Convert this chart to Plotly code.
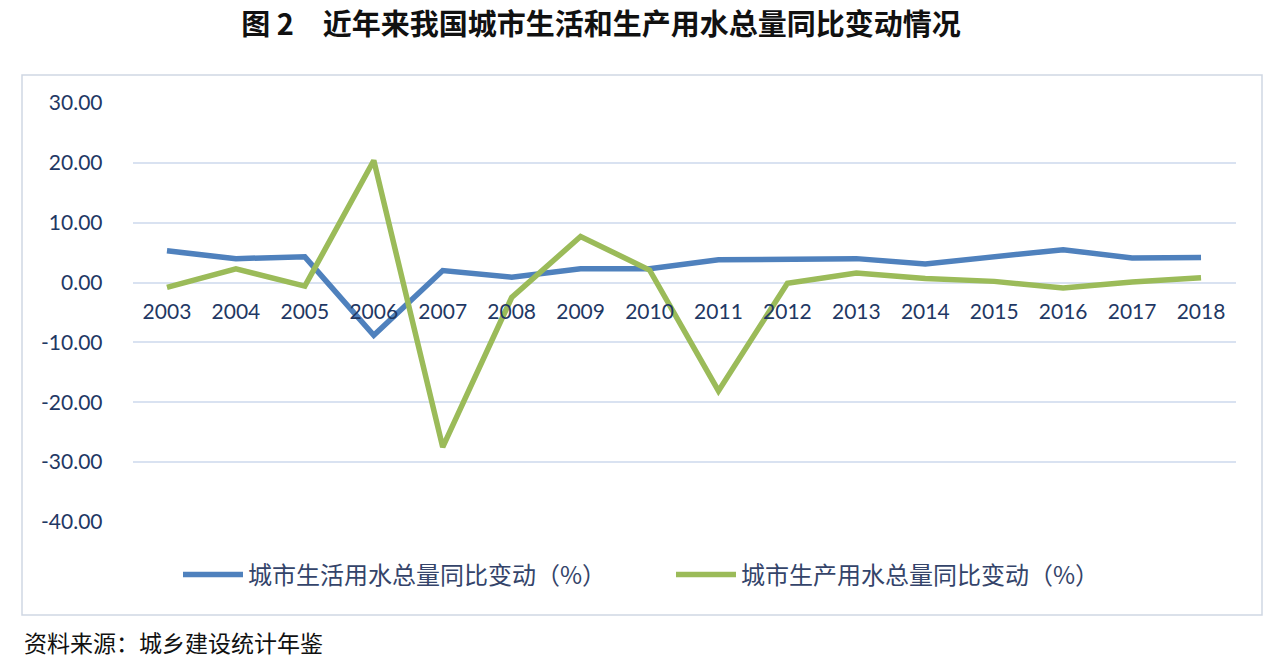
import plotly.graph_objects as go

years = ["2003", "2004", "2005", "2006", "2007", "2008", "2009", "2010",
         "2011", "2012", "2013", "2014", "2015", "2016", "2017", "2018"]
domestic = [5.3, 4.0, 4.3, -8.8, 2.0, 0.9, 2.3, 2.3, 3.8, 3.8, 4.0, 3.1, 4.3, 5.5, 4.1, 4.2]
production = [-0.8, 2.3, -0.6, 20.4, -27.5, -2.5, 7.7, 2.1, -18.1, -0.1, 1.6, 0.7, 0.2, -0.9, 0.1, 0.8]
series_names = ["城市生活用水总量同比变动（%）", "城市生产用水总量同比变动（%）"]
y_ticks = [30, 20, 10, 0, -10, -20, -30, -40]
y_tick_text = ["30.00", "20.00", "10.00", "0.00", "-10.00", "-20.00", "-30.00", "-40.00"]

W, H = 1284, 660
def px(x): return x / W
def py(y): return 1 - y / H

FONT = "Lato, Noto Sans CJK SC, sans-serif"
NAVY = "#1F3864"

fig = go.Figure()
fig.add_trace(go.Scatter(x=years, y=domestic, mode="lines", name=series_names[0],
                         line=dict(color="#4F81BD", width=5.5)))
fig.add_trace(go.Scatter(x=years, y=production, mode="lines", name=series_names[1],
                         line=dict(color="#9BBB59", width=5.5)))

ydom = [py(522), py(103)]
zero_pos = py(283)

fig.update_layout(
    width=W, height=H,
    margin=dict(l=0, r=0, t=0, b=0, autoexpand=False),
    paper_bgcolor="white", plot_bgcolor="white",
    font=dict(family=FONT, color=NAVY, size=20),
    showlegend=True,
    legend=dict(orientation="h", x=px(178), xanchor="left", y=py(575), yanchor="middle",
                font=dict(size=24, color="#34446A", family="Noto Sans CJK SC"),
                itemwidth=60, tracegroupgap=0,
                entrywidthmode="pixels", entrywidth=418),
    xaxis=dict(domain=[px(132.5), px(1235.5)], anchor="free", position=zero_pos,
               type="category", range=[-0.5, 15.5], showgrid=False, automargin=False,
               showline=False, ticks="", tickfont=dict(size=21, color=NAVY),
               ticklabelstandoff=14, zeroline=False),
    yaxis=dict(domain=ydom, range=[-40, 30], tickvals=y_ticks, ticktext=y_tick_text,
               showgrid=True, gridcolor="#D9E2F1", gridwidth=1.5, automargin=False,
               zeroline=False, showline=False, ticks="",
               tickfont=dict(size=21, color=NAVY), ticklabelstandoff=29),
    title=dict(text="<b>图 2　近年来我国城市生活和生产用水总量同比变动情况</b>",
               x=px(601), xanchor="center", y=py(25), yanchor="middle",
               font=dict(size=29, color="#111111", family="Noto Sans CJK SC")),
)

fig.add_shape(type="rect", xref="paper", yref="paper",
              x0=px(22), x1=px(1262), y0=py(615), y1=py(75),
              line=dict(color="#D0D7E3", width=1.5), layer="below")

fig.add_annotation(text="资料来源：城乡建设统计年鉴", xref="paper", yref="paper",
                   x=px(22), y=py(642), xanchor="left", yanchor="middle", showarrow=False,
                   font=dict(size=23, color="#111111", family="Noto Sans CJK SC"))

fig.write_html("out.html")
